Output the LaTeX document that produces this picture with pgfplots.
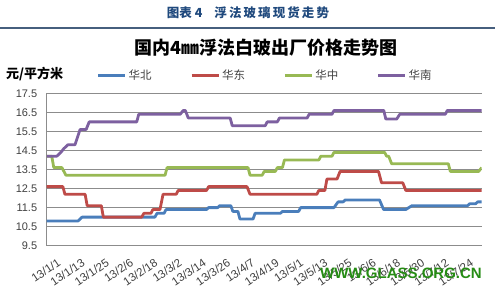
\documentclass[border=0pt]{standalone}
\usepackage{pgfplots}
\pgfplotsset{compat=1.18}
\usepackage{fontspec}
\setmainfont{Liberation Sans}
\newfontfamily\cjk{Noto Sans CJK SC}

\definecolor{sBlue}{RGB}{74,126,187}
\definecolor{sRed}{RGB}{190,75,72}
\definecolor{sGreen}{RGB}{152,185,84}
\definecolor{sPurple}{RGB}{125,96,160}
\definecolor{gridgray}{RGB}{140,140,140}
\definecolor{ticktext}{RGB}{64,64,64}
\definecolor{headblue}{RGB}{31,73,125}
\definecolor{wmgreen}{RGB}{38,140,20}

\begin{document}
\begin{tikzpicture}
\path[use as bounding box] (0pt,0pt) rectangle (495pt,295pt);
% report header
\node[font=\cjk\bfseries\fontsize{12.5}{14}\selectfont, text=headblue] at (248pt,282pt) {图表\ 4\hspace{12pt}浮\,法\,玻\,璃\,现\,货\,走\,势};
\draw[headblue!60!gray, line width=1.2pt] (0pt,267pt) -- (495pt,267pt);
% chart title and unit
\node[font=\cjk\bfseries\fontsize{18}{20}\selectfont] at (266pt,247pt) {国内4㎜浮法白玻出厂价格走势图};
\node[font=\cjk\bfseries\fontsize{13}{15}\selectfont, anchor=west, inner sep=0] at (6pt,221pt) {元/平方米};

\begin{axis}[
  at={(46.7pt,49.3pt)}, anchor=south west,
  width=435pt, height=152.4pt, scale only axis,
  xmin=0, xmax=215, ymin=9.5, ymax=17.5,
  ytick={9.5,10.5,11.5,12.5,13.5,14.5,15.5,16.5,17.5},
  yticklabel style={/pgf/number format/fixed, /pgf/number format/fixed zerofill, /pgf/number format/precision=1},
  /pgf/number format/assume math mode=true,
  xtick={0,12,...,204},
  xticklabels={13/1/1,13/1/13,13/1/25,13/2/6,13/2/18,13/3/2,13/3/14,13/3/26,13/4/7,13/4/19,13/5/1,13/5/13,13/5/25,13/6/6,13/6/18,13/6/30,13/7/12,13/7/24},
  xticklabel style={xshift=10pt, yshift=-12pt, rotate=34, anchor=north east, inner sep=0pt, font=\fontsize{11.5}{12}\selectfont},
  yticklabel style={xshift=-6pt},
  ymajorgrids, grid style={gridgray, line width=0.8pt},
  axis x line*=bottom, axis y line*=left,
  axis line style={gridgray, line width=0.8pt, -},
  major tick length=0pt,
  tick label style={font=\fontsize{11}{12}\selectfont, text=ticktext},
  legend columns=4,
  legend style={at={(0.115,1.1155)}, anchor=west, draw=none, fill=none, inner sep=0pt,
    font=\cjk\fontsize{11.5}{13}\selectfont, text=ticktext,
    /tikz/every even column/.append style={column sep=36.5pt}},
  legend cell align=left,
  legend image code/.code={\draw[#1] (0pt,0pt) -- (27pt,0pt);},
  every axis plot/.append style={line width=2.8pt, line join=round},
]
% North China
\addplot[sBlue] coordinates {
 (0,10.8) (15.5,10.8) (17.5,11.0) (53.5,11.0) (54.5,11.2) (58,11.2) (59,11.4)
 (79,11.4) (80,11.5) (84.5,11.5) (85.5,11.6) (91,11.6) (92,11.3) (94.5,11.3)
 (95.5,10.9) (102,10.9) (103,11.2) (115.5,11.2) (116.5,11.3) (124.5,11.3)
 (125.5,11.5) (142,11.5) (144,11.8) (146.5,11.8) (147.5,11.9) (164.5,11.9)
 (166.5,11.4) (177.5,11.4) (179,11.5) (180.5,11.6) (208,11.6) (209,11.7)
 (212,11.7) (213,11.8) (215,11.8)};
\addlegendentry{华北}
% East China
\addplot[sRed] coordinates {
 (0,12.6) (8,12.6) (9,12.2) (19,12.2) (20,11.6) (27,11.6) (28,11.0) (47,11.0)
 (48,11.2) (51.5,11.2) (52.5,11.4) (56,11.4) (57.5,12.2) (64,12.2) (65,12.4)
 (79,12.4) (80,12.6) (99,12.6) (100.5,12.2) (133.5,12.2) (134.5,12.4)
 (137.5,12.4) (138.5,13.0) (143.5,13.0) (145,13.4) (164,13.4) (165.5,12.8)
 (176,12.8) (177.5,12.4) (215,12.4)};
\addlegendentry{华东}
% Central China
\addplot[sGreen] coordinates {
 (0,14.2) (2.5,14.2) (3.5,13.6) (7.5,13.6) (9.5,13.2) (58.5,13.2) (59.5,13.6)
 (99.5,13.6) (100.5,13.2) (106.5,13.2) (107.5,13.4) (113,13.4) (114,13.6)
 (116.5,13.6) (117.5,14.0) (134.5,14.0) (135.5,14.2) (141,14.2) (142,14.4)
 (167,14.4) (168,14.2) (169,14.2) (170.5,13.8) (198.5,13.8) (199.5,13.4)
 (213.5,13.4) (215,13.6)};
\addlegendentry{华中}
% South China
\addplot[sPurple] coordinates {
 (0,14.2) (5,14.2) (7,14.4) (8.5,14.6) (10.5,14.8) (14,14.8) (16.5,15.6)
 (19.5,15.6) (21,16.0) (44.5,16.0) (45.5,16.4) (66,16.4) (67.5,16.6)
 (68.5,16.6) (70,16.2) (90.7,16.2) (91.7,15.8) (108,15.8) (109,16.0)
 (114,16.0) (115,16.2) (128.7,16.2) (129.7,16.4) (141,16.4) (142,16.6)
 (166.6,16.6) (167.6,16.15) (173,16.15) (174.5,16.4) (197,16.4) (198,16.6)
 (215,16.6)};
\addlegendentry{华南}
\end{axis}

% site mark
\node[font=\bfseries\fontsize{15}{16}\selectfont, text=wmgreen, anchor=east, inner sep=0] at (482pt,22pt) {WWW.GLASS.ORG.CN};
\end{tikzpicture}
\end{document}
